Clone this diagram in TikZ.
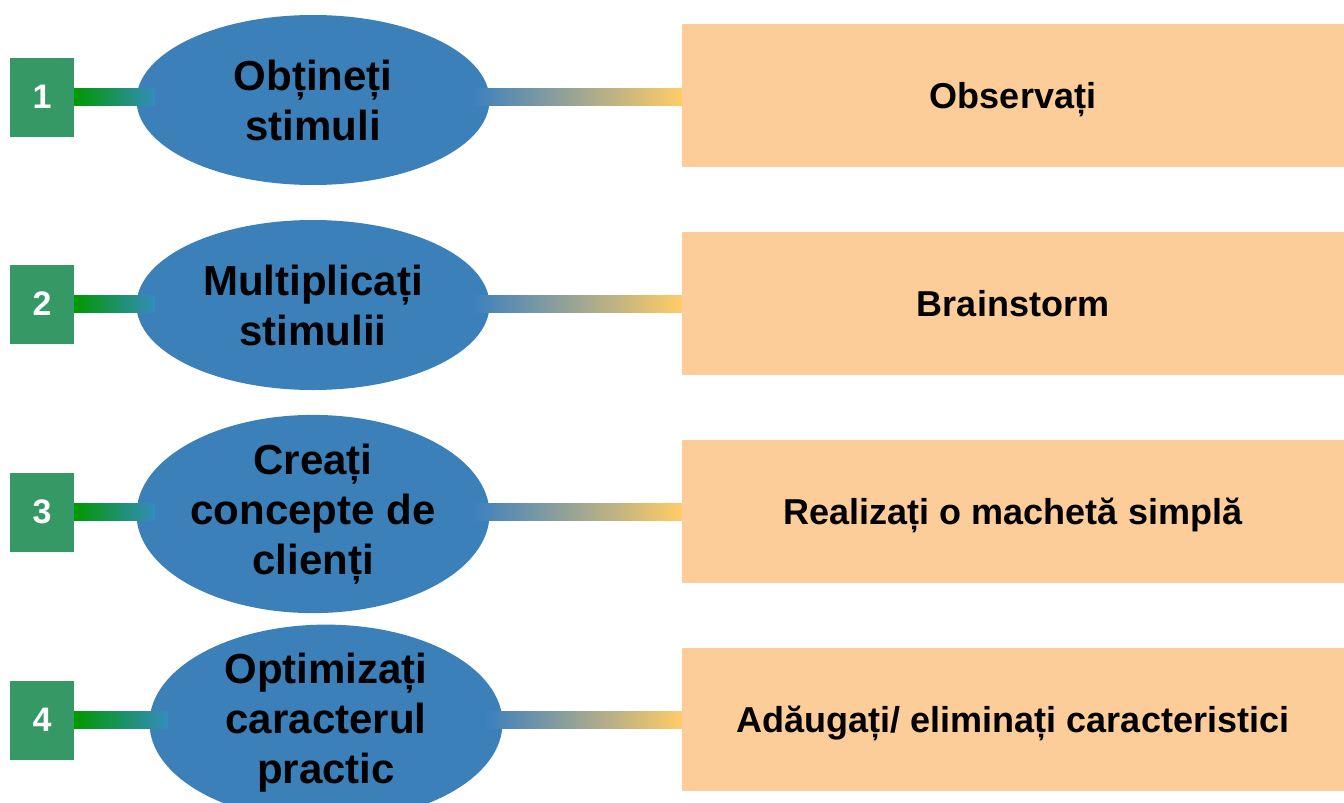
\documentclass[tikz,border=0pt]{standalone}
\usepackage{fontspec}
\setmainfont{Liberation Sans}
\usetikzlibrary{shapes.geometric,calc}
\definecolor{sqgreen}{RGB}{52,153,101}
\definecolor{ellblue}{RGB}{59,128,185}
\definecolor{boxpeach}{RGB}{252,204,153}
\definecolor{lgreen}{RGB}{0,153,0}
\definecolor{lteal}{RGB}{52,140,190}
\definecolor{rblue}{RGB}{60,128,190}
\definecolor{ryellow}{RGB}{255,204,102}
\tikzset{
 numbox/.style={fill=sqgreen, minimum width=64pt, minimum height=79pt, inner sep=0pt, text=white, font=\fontsize{34}{40}\selectfont\bfseries},
 stage/.style={ellipse, fill=ellblue, minimum width=353pt, minimum height=170pt, inner sep=0pt, align=center, font=\fontsize{42}{50}\selectfont\bfseries},
 action/.style={fill=boxpeach, minimum width=662pt, minimum height=143pt, inner sep=0pt, text height=25pt, text depth=0pt, font=\fontsize{36}{43}\selectfont\bfseries},
 leftlink/.style={left color=lgreen, right color=lteal},
 rightlink/.style={left color=rblue, right color=ryellow},
}
\begin{document}
\begin{tikzpicture}[x=1pt,y=-1pt]
\useasboundingbox (0,0) rectangle (1344,803);
% row 1
\node[numbox] (n1) at (42,97) {1};
\node[stage] (e1) at (313,100) {Obțineți\\stimuli};
\node[action] (b1) at (1013,95.5) {Observați};
% row 2
\node[numbox] (n2) at (42,304) {2};
\node[stage] (e2) at (313,305) {Multiplicați\\stimulii};
\node[action] (b2) at (1013,303.5) {Brainstorm};
% row 3
\node[numbox] (n3) at (42,512) {3};
\node[stage] (e3) at (313,514) {Creați\\concepte de\\clienți};
\node[action] (b3) at (1013,511.5) {Realizați o machetă simplă};
% row 4
\node[numbox] (n4) at (42,720) {4};
\node[stage] (e4) at (326,723) {Optimizați\\caracterul\\practic};
\node[action] (b4) at (1013,719.5) {Adăugați/ eliminați caracteristici};
% connectors
\foreach \i in {1,2,3,4}{
  \shade[leftlink] ($(n\i.east)+(0,-8.5)$) rectangle ($(e\i.west |- n\i.east)+(18,8.5)$);
  \shade[rightlink] ($(e\i.east |- n\i.east)+(-17,-8.5)$) rectangle ($(b\i.west |- n\i.east)+(0,8.5)$);
}
\end{tikzpicture}
\end{document}
